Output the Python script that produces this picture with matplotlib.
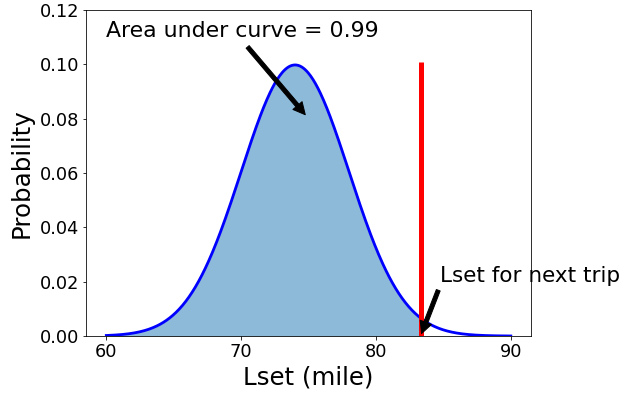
import numpy as np
import matplotlib.pyplot as plt

# distance model for Lset (miles)
mu = 74.0
sigma = 4.0
x_range = [60, 90]
x_ticks = [60, 70, 80, 90]
confidence = 0.99
z_99 = 2.326  # one-sided z for 0.99

lset = mu + z_99 * sigma
x = np.linspace(x_range[0], x_range[1], 500)
pdf = np.exp(-0.5 * ((x - mu) / sigma) ** 2) / (sigma * np.sqrt(2 * np.pi))

fig = plt.figure(figsize=(624 / 72, 394 / 72), dpi=72)
ax = fig.add_axes([0.138, 0.147, 0.713, 0.828])

ax.plot(x, pdf, color='blue', lw=2.8)
mask = x <= lset
ax.fill_between(x[mask], pdf[mask], color='C0', alpha=0.5, lw=0)
ax.vlines(lset, 0, 0.101, color='red', lw=5)

ax.annotate('Area under curve = %.2f' % confidence, xy=(75, 0.08), xytext=(60, 0.11),
            fontsize=22, arrowprops=dict(facecolor='black', shrink=0.05))
ax.annotate('Lset for next trip', xy=(lset, 0), xytext=(84.75, 0.02),
            fontsize=21.5, arrowprops=dict(facecolor='black', shrink=0.05))

ax.set_ylim(0, 0.12)
ax.set_xticks(x_ticks)
ax.set_xlabel('Lset (mile)', fontsize=24.5)
ax.set_ylabel('Probability', fontsize=24.5, labelpad=6)
ax.tick_params(labelsize=17.8)

fig.savefig('out.png', dpi=72)
